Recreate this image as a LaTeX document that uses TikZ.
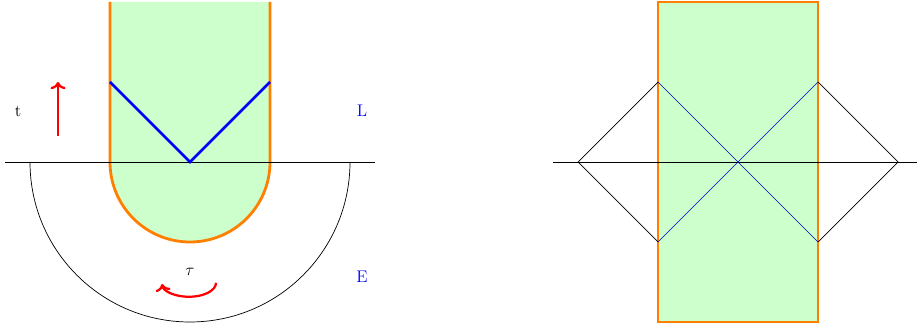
\documentclass[tikz,border=0pt]{standalone}
\usepackage{xcolor}
\usepackage{tikz}
\usetikzlibrary{arrows.meta}
\colorlet{patch}{green!20}
\colorlet{wall}{orange}
\colorlet{ray}{blue}
\colorlet{flow}{red}

\begin{document}
\begin{tikzpicture}[
  every node/.style={font=\large},
  wallline/.style={line width=2pt, draw=wall},
  rayline/.style={line width=1.8pt, draw=ray},
  thinray/.style={line width=0.4pt, draw=ray!80!black},
  flowarrow/.style={->, line width=1.6pt, draw=flow},
  axisline/.style={line width=0.5pt, draw=black},
  region/.style={text=blue}
]
\useasboundingbox (-4.75,-4.125) rectangle (18.175,4.05);

% ---------- Geometry ----------
\def\strip{2}
\def\disk{4}
\def\shift{13.7}
\coordinate (O) at (0,0);
\coordinate (R) at (\shift,0);

% ---------- Left: strip over half disk ----------
\filldraw[fill=patch, wallline] (-\strip,\disk) -- (-\strip,0)
  arc (180:360:\strip) -- (\strip,\disk);
\draw[axisline] (-4.625,0) -- (4.625,0);
\draw[axisline] (-\disk,0) arc (180:360:\disk);

\coordinate (VL) at (-\strip,\strip);
\coordinate (VR) at (\strip,\strip);
\draw[rayline] (VL) -- (O) -- (VR);

% ---------- Labels ----------
\node (tlab) at (-4.3,1.275) {t};
\node[region] (llab) at (4.3,1.275) {L};
\node[region] (elab) at (4.3,-2.875) {E};
\node (taulab) at (0,-2.75) {$\tau$};

% ---------- Flow arrows ----------
\coordinate (tfoot) at (-3.3,0.65);
\coordinate (thead) at (-3.3,2);
\draw[flowarrow] (tfoot) -- (thead);
\coordinate (taustart) at (0.65,-3.02);
\draw[flowarrow] (taustart) arc[start angle=0, end angle=-175,
  x radius=0.675, y radius=0.35];

% ---------- Right: rectangle and diamond ----------
\filldraw[fill=patch, wallline] (\shift-\strip,-\disk) rectangle (\shift+\strip,\disk);
\draw[axisline] (\shift-4.625,0) -- (18.175,0);

\coordinate (DL) at (\shift-\disk,0);
\coordinate (DR) at (\shift+\disk,0);
\coordinate (A) at (\shift-\strip,\strip);
\coordinate (B) at (\shift-\strip,-\strip);
\coordinate (C) at (\shift+\strip,\strip);
\coordinate (D) at (\shift+\strip,-\strip);
\draw[axisline] (A) -- (DL) -- (B);
\draw[axisline] (C) -- (DR) -- (D);
\draw[thinray] (A) -- (D);
\draw[thinray] (B) -- (C);

\end{tikzpicture}
\end{document}
